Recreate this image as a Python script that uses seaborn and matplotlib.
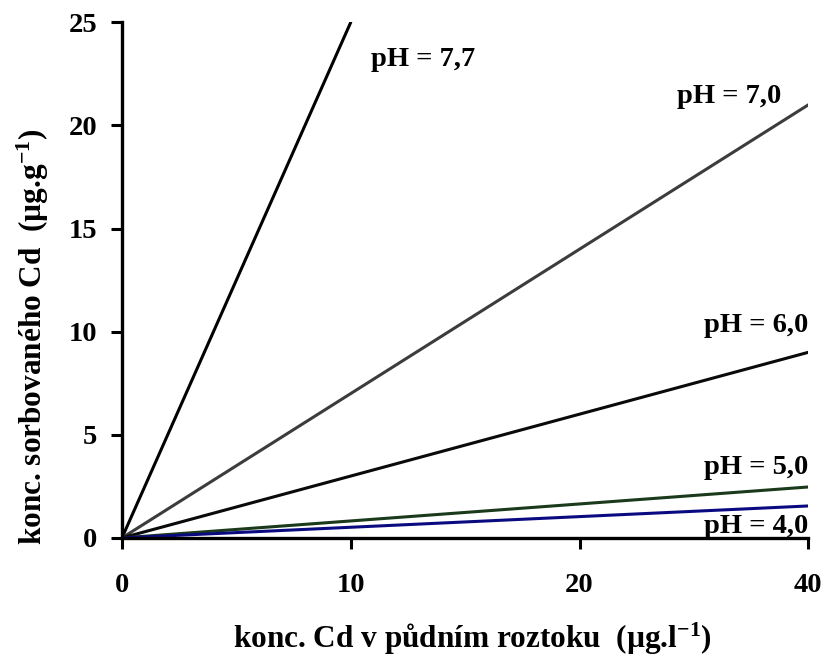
import numpy as np
import pandas as pd
import matplotlib
matplotlib.use("Agg")
import matplotlib.pyplot as plt
import seaborn as sns

# x positions on the drawn axis (tick "40" sits at the 4th equal step)
x_ticks = [0, 10, 20, 30]
x_ticklabels = ["0", "10", "20", "40"]
y_ticks = [0, 5, 10, 15, 20, 25]

series = ["pH = 7,7", "pH = 7,0", "pH = 6,0", "pH = 5,0", "pH = 4,0"]
x_start = [0, 0, 0, 0, 0]
y_start = [0, 0, 0, 0, 0]
x_end = [10, 30, 30, 30, 30]
y_end = [25, 21, 9, 2.47, 1.55]
colors = ["#000000", "#3c3c3c", "#0a0a0a", "#1b3a1b", "#0a0a80"]

# label anchors (x, y, alignment)
label_x = [10.9, 28.8, 30, 30, 30]
label_y = [23.2, 21.4, 10.3, 3.4, 0.55]
label_ha = ["left", "right", "right", "right", "right"]

rows = []
for s, x0, y0, x1, y1 in zip(series, x_start, y_start, x_end, y_end):
    rows.append({"x": x0, "y": y0, "pH": s})
    rows.append({"x": x1, "y": y1, "pH": s})
df = pd.DataFrame(rows)

sns.set_style("ticks", {"axes.edgecolor": "black", "text.color": "black",
                        "axes.labelcolor": "black", "xtick.color": "black",
                        "ytick.color": "black"})
plt.rcParams["font.family"] = ["Liberation Serif", "DejaVu Serif"]
plt.rcParams["font.weight"] = "bold"
plt.rcParams["mathtext.fontset"] = "custom"
plt.rcParams["mathtext.rm"] = "Liberation Serif:bold"
plt.rcParams["mathtext.bf"] = "Liberation Serif:bold"
plt.rcParams["mathtext.default"] = "rm"

fig = plt.figure(figsize=(8.24, 6.56), dpi=100)
ax = fig.add_axes([0.148, 0.180, 0.833, 0.786])

sns.lineplot(data=df, x="x", y="y", hue="pH", palette=dict(zip(series, colors)),
             linewidth=2.2, legend=False, ax=ax)

for s, lx, ly, ha in zip(series, label_x, label_y, label_ha):
    ax.text(lx, ly, s, ha=ha, va="center", fontsize=20.5, fontweight="bold",
            color="black")

ax.set_xlim(0, 30)
ax.set_ylim(0, 25)
ax.set_xticks(x_ticks)
ax.set_xticklabels(x_ticklabels)
ax.set_yticks(y_ticks)
ax.tick_params(axis="both", direction="out", length=8, width=2.2, labelsize=20.5,
               colors="black")
ax.tick_params(axis="x", pad=17)
ax.tick_params(axis="y", pad=10)
for lab in ax.get_xticklabels() + ax.get_yticklabels():
    lab.set_fontweight("bold")

for side in ["top", "right"]:
    ax.spines[side].set_visible(False)
for side in ["left", "bottom"]:
    ax.spines[side].set_linewidth(2.4)
    ax.spines[side].set_color("black")

ax.set_xlabel("konc. Cd v půdním roztoku  (µg.l$^{-1}$)", fontsize=22.5,
              fontweight="bold", color="black")
ax.set_ylabel("konc. sorbovaného Cd  (µg.g$^{-1}$)", fontsize=22.5,
              fontweight="bold", color="black")
ax.xaxis.set_label_coords(0.51, -0.16)
ax.yaxis.set_label_coords(-0.104, 0.39)

fig.savefig("out.png", dpi=100)
